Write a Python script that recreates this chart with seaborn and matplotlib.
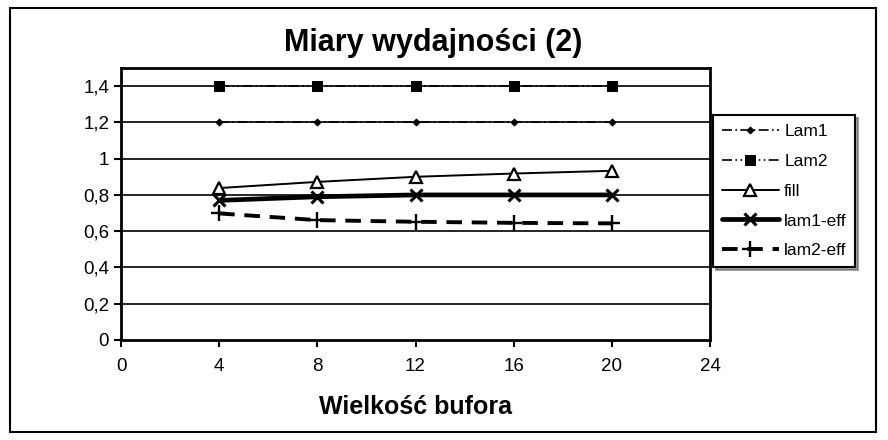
import numpy as np
import pandas as pd
import seaborn as sns
import matplotlib.pyplot as plt
from matplotlib.patches import Rectangle

# data
bufor = [4, 8, 12, 16, 20]
lam1 = [1.2, 1.2, 1.2, 1.2, 1.2]
lam2 = [1.4, 1.4, 1.4, 1.4, 1.4]
fill = [0.838, 0.872, 0.900, 0.918, 0.933]
lam1_eff = [0.77, 0.79, 0.80, 0.80, 0.80]
lam2_eff = [0.698, 0.661, 0.652, 0.646, 0.643]

x_ticks = [0, 4, 8, 12, 16, 20, 24]
y_ticks = [0, 0.2, 0.4, 0.6, 0.8, 1.0, 1.2, 1.4]
y_labels = ['0', '0,2', '0,4', '0,6', '0,8', '1', '1,2', '1,4']

sns.set_theme(style='white')
plt.rcParams['font.family'] = ['Liberation Sans', 'DejaVu Sans']
plt.rcParams['text.color'] = 'black'
plt.rcParams['axes.labelcolor'] = 'black'

fig = plt.figure(figsize=(8.88, 4.4), dpi=100)
ax = fig.add_axes([121 / 888, 1 - 340 / 440, (710 - 121) / 888, (340 - 68) / 440])

# outer chart border
fig.patches.append(Rectangle((10 / 888, 8 / 440), 866 / 888, 424 / 440,
                             transform=fig.transFigure, fill=False,
                             edgecolor='black', linewidth=1.5))

for yv in y_ticks[1:]:
    ax.axhline(yv, color='black', linewidth=1.2, zorder=1)

series = [
    ('Lam1', lam1, dict(linestyle=(0, (6, 2, 1, 2)), linewidth=1.2,
                        marker='D', markersize=3.5)),
    ('Lam2', lam2, dict(linestyle=(0, (6, 2, 1, 2, 1, 2)), linewidth=1.2,
                        marker='s', markersize=7)),
    ('fill', fill, dict(linestyle='-', linewidth=1.4, marker='^',
                        markersize=9, markerfacecolor='white',
                        markeredgewidth=1.6)),
    ('lam1-eff', lam1_eff, dict(linestyle='-', linewidth=3.4, marker='x',
                                markersize=9, markeredgewidth=2.2)),
    ('lam2-eff', lam2_eff, dict(linestyle=(0, (4, 2.5)), linewidth=2.8,
                                marker='+', markersize=12,
                                markeredgewidth=1.7)),
]

for name, vals, style in series:
    df = pd.DataFrame({'bufor': bufor, 'val': vals})
    sns.lineplot(data=df, x='bufor', y='val', ax=ax, color='black',
                 markeredgecolor='black', label=name, zorder=3, **style)

ax.set_xlim(0, 24)
ax.set_ylim(0, 1.5)
ax.set_xticks(x_ticks)
ax.set_yticks(y_ticks)
ax.set_yticklabels(y_labels)
ax.tick_params(axis='both', labelsize=13.5, length=5, width=1.5,
               direction='out', color='black', labelcolor='black',
               left=True, bottom=True)
ax.tick_params(axis='x', pad=8)
for sp in ax.spines.values():
    sp.set_color('black')
    sp.set_linewidth(2)

ax.set_ylabel('')
ax.set_xlabel('Wielkość bufora', fontsize=18, fontweight='bold', labelpad=14)
fig.text(433 / 888, 1 - 43 / 440, 'Miary wydajności (2)', ha='center',
         va='center', fontsize=22, fontweight='bold')

leg = ax.legend(loc='upper left', bbox_to_anchor=(713 / 888, 1 - 115 / 440),
                bbox_transform=fig.transFigure, frameon=True, fontsize=12.5,
                handlelength=3.3, handletextpad=0.3, labelspacing=0.85,
                borderpad=0.5, borderaxespad=0, fancybox=False, shadow=True)
leg.get_frame().set_edgecolor('black')
leg.get_frame().set_linewidth(1.5)
for t in leg.get_texts():
    t.set_color('black')

fig.savefig('out.png', dpi=100)
